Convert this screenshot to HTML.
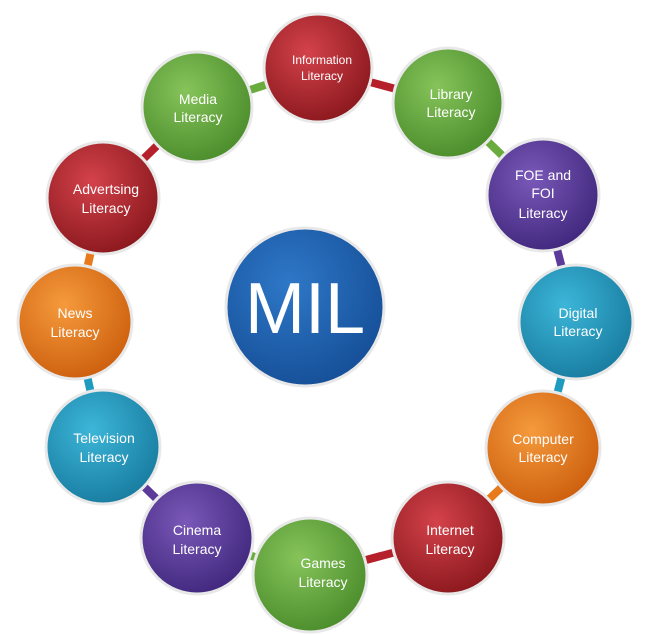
<!DOCTYPE html>
<html><head><meta charset="utf-8"><style>
html,body{margin:0;padding:0;background:#fff;}
svg{display:block}
text{font-family:"Liberation Sans",sans-serif;fill:#fff;text-anchor:middle;}
</style></head><body>
<svg width="651" height="635" viewBox="0 0 651 635">
<defs>
<radialGradient id="r" cx="40%" cy="35%" r="65%"><stop offset="0" stop-color="#d4424a"/><stop offset="1" stop-color="#8e1a20"/></radialGradient>
<radialGradient id="g" cx="40%" cy="35%" r="65%"><stop offset="0" stop-color="#86c45a"/><stop offset="1" stop-color="#4e8f2e"/></radialGradient>
<radialGradient id="p" cx="40%" cy="35%" r="65%"><stop offset="0" stop-color="#7a58b8"/><stop offset="1" stop-color="#432a80"/></radialGradient>
<radialGradient id="t" cx="40%" cy="35%" r="65%"><stop offset="0" stop-color="#3cb6d8"/><stop offset="1" stop-color="#1a7fa3"/></radialGradient>
<radialGradient id="o" cx="40%" cy="35%" r="65%"><stop offset="0" stop-color="#f59a3c"/><stop offset="1" stop-color="#cf6210"/></radialGradient>
<radialGradient id="b" cx="40%" cy="35%" r="65%"><stop offset="0" stop-color="#2e78c8"/><stop offset="1" stop-color="#17519a"/></radialGradient>
</defs>
<g stroke-width="8" fill="none">
<line x1="197" y1="107" x2="318" y2="68" stroke="#6aab3e"/>
<line x1="318" y1="68" x2="448" y2="103" stroke="#b5202a"/>
<line x1="448" y1="103" x2="543" y2="195" stroke="#6aab3e"/>
<line x1="543" y1="195" x2="576" y2="322" stroke="#5b3a9a"/>
<line x1="576" y1="322" x2="543" y2="448" stroke="#1f9bbf"/>
<line x1="543" y1="448" x2="448" y2="538" stroke="#e97a1c"/>
<line x1="448" y1="538" x2="310" y2="575" stroke="#b5202a"/>
<line x1="310" y1="575" x2="197" y2="538" stroke="#6aab3e"/>
<line x1="197" y1="538" x2="103" y2="447" stroke="#5b3a9a"/>
<line x1="103" y1="447" x2="75" y2="322" stroke="#1f9bbf"/>
<line x1="75" y1="322" x2="103" y2="198" stroke="#e97a1c"/>
<line x1="103" y1="198" x2="197" y2="107" stroke="#b5202a"/>
</g>
<g stroke="#e8e8e8" stroke-width="3">
<circle cx="318" cy="68" r="54" fill="url(#r)"/>
<circle cx="448" cy="103" r="55" fill="url(#g)"/>
<circle cx="543" cy="195" r="56" fill="url(#p)"/>
<circle cx="576" cy="322" r="57" fill="url(#t)"/>
<circle cx="543" cy="448" r="57" fill="url(#o)"/>
<circle cx="448" cy="538" r="56" fill="url(#r)"/>
<circle cx="310" cy="575" r="57" fill="url(#g)"/>
<circle cx="197" cy="538" r="56" fill="url(#p)"/>
<circle cx="103" cy="447" r="57" fill="url(#t)"/>
<circle cx="75" cy="322" r="57" fill="url(#o)"/>
<circle cx="103" cy="198" r="56" fill="url(#r)"/>
<circle cx="197" cy="107" r="55" fill="url(#g)"/>
<circle cx="305" cy="307" r="79" fill="url(#b)"/>
</g>
<text x="305" y="333" font-size="72" style="fill:#fff">MIL</text>
<g font-size="14">
<text x="322" y="64" font-size="12">Information</text><text x="322" y="80" font-size="12">Literacy</text>
<text x="451" y="99">Library</text><text x="451" y="117">Literacy</text>
<text x="543" y="180">FOE and</text><text x="543" y="198">FOI</text><text x="543" y="218">Literacy</text>
<text x="578" y="318">Digital</text><text x="578" y="336">Literacy</text>
<text x="543" y="444">Computer</text><text x="543" y="462">Literacy</text>
<text x="450" y="535">Internet</text><text x="450" y="554">Literacy</text>
<text x="323" y="568">Games</text><text x="323" y="587">Literacy</text>
<text x="197" y="535">Cinema</text><text x="197" y="554">Literacy</text>
<text x="104" y="443">Television</text><text x="104" y="462">Literacy</text>
<text x="75" y="318">News</text><text x="75" y="337">Literacy</text>
<text x="106" y="194">Advertsing</text><text x="106" y="213">Literacy</text>
<text x="198" y="104">Media</text><text x="198" y="122">Literacy</text>
</g>
</svg>
</body></html>
